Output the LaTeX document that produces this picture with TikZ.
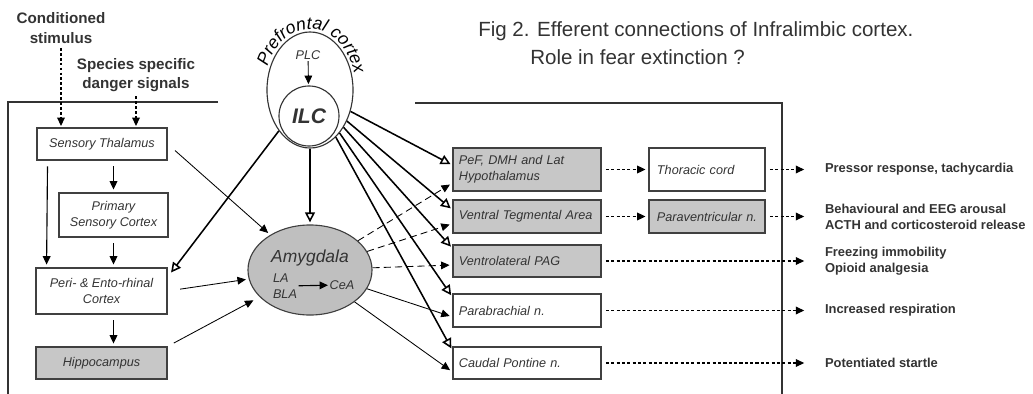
\documentclass[tikz,border=0pt]{standalone}
\usepackage{fontspec}
\setmainfont{Liberation Sans}
\usetikzlibrary{arrows.meta,shapes.geometric,decorations.text}

\begin{document}
\begin{tikzpicture}[x=0.025cm,y=0.025cm,>={Triangle[length=6pt,width=5.5pt]},
    every node/.style={text=black!80},
    box/.style={draw=black!75,line width=0.9pt,font=\fontsize{9}{11.4}\selectfont\itshape,align=center,inner sep=0pt},
    shaded/.style={fill=black!22},
    mid box/.style={box,align=left,inner xsep=0.15cm,text width=3.4cm,minimum height=0.825cm},
    side box/.style={box,align=left,inner xsep=0.2cm,text width=2.5cm,minimum height=0.825cm},
    label text/.style={font=\fontsize{10.8}{14}\selectfont\bfseries,align=center,inner sep=1pt},
    resp/.style={anchor=west,font=\fontsize{9.2}{11.4}\selectfont\bfseries,align=left,inner sep=0pt,outer xsep=0.45cm,outer ysep=0pt},
    small/.style={font=\fontsize{9}{11.4}\selectfont\itshape,align=left,inner sep=1pt},
    ilcarrow/.style={-{Triangle[open,length=7pt,width=7pt]},line width=1.1pt,shorten >=1.5pt},
    amyarrow/.style={->,line width=0.6pt,shorten >=2pt},
    amydash/.style={amyarrow,dash pattern=on 5pt off 3pt},
    indash/.style={->,line width=0.8pt,dash pattern=on 2pt off 1.5pt},
    outarrow/.style={->,line width=0.8pt,dash pattern=on 2.2pt off 1.6pt,shorten <=3pt,shorten >=2pt},
    vert/.style={->,line width=0.8pt,shorten <=4pt,shorten >=2pt}]
    \useasboundingbox (0,0) rectangle (1033,-394);

    % title
    \node[anchor=base west,font=\fontsize{14.6}{20}\selectfont,inner sep=0pt] (title) at (478,-37) {Fig 2. Efferent connections of Infralimbic cortex.};
    \node[anchor=base west,font=\fontsize{14.6}{20}\selectfont,inner sep=0pt] (subtitle) at (530,-65) {Role in fear extinction ?};

    % frame
    \draw[line width=1pt,black!80] (218,-102) -- (8,-102) -- (8,-394);
    \draw[line width=1pt,black!80] (415,-103) -- (782,-103) -- (782,-394);

    % inputs
    \node[label text] (cs) at (61,-28) {Conditioned\\stimulus};
    \node[label text] (ssds) at (136,-75) {Species specific\\danger signals};

    % left column
    \node[box,minimum width=3.25cm,minimum height=0.8cm] (thal) at (102,-144) {Sensory Thalamus};
    \node[box,minimum width=2.725cm,minimum height=1.1cm] (psc) at (113.5,-215) {Primary\\Sensory Cortex};
    \node[box,minimum width=3.275cm,minimum height=1.15cm] (peri) at (101.5,-291) {Peri- \& Ento-rhinal\\Cortex};
    \node[box,shaded,minimum width=3.275cm,minimum height=0.8cm] (hippo) at (101.5,-363) {Hippocampus};

    % prefrontal cortex
    \node[ellipse,draw=black!80,line width=0.8pt,minimum width=2.15cm,minimum height=2.9cm,inner sep=0pt] (pfc) at (310,-90) {};
    \path[decorate,decoration={text along path,text align=center,
        text={|\fontsize{12.5}{14}\selectfont\itshape|Prefrontal cortex}}]
        (pfc.center) ++(165:46 and 61) arc[start angle=165,end angle=8,x radius=46,y radius=61];
    \node[small] (plc) at (308,-55) {PLC};
    \node[circle,draw=black!80,line width=0.8pt,minimum size=1.5cm,inner sep=0pt,font=\fontsize{15}{17}\selectfont\bfseries\itshape] (ilc) at (309,-116) {ILC};

    % amygdala
    \node[ellipse,draw=black!75,fill=black!25,line width=0.8pt,minimum width=3.1cm,minimum height=2.25cm] (amy) at (310,-270) {};
    \node[font=\fontsize{12.4}{14}\selectfont\itshape,inner sep=0pt] (amyname) at (310,-258) {Amygdala};
    \node[small] (la) at (285,-286) {LA\\BLA};
    \node[small] (cea) at (342,-285) {CeA};

    % middle column
    \node[mid box,shaded,minimum height=1.075cm] (pef) at (527,-169.5) {PeF, DMH and Lat\\Hypothalamus};
    \node[mid box,shaded] (vta) at (527,-216.5) {Ventral Tegmental Area};
    \node[mid box,shaded,minimum height=0.8cm] (pag) at (527,-261) {Ventrolateral PAG};
    \node[mid box] (pbn) at (527,-310.5) {Parabrachial n.};
    \node[mid box,minimum height=0.8cm] (cpn) at (527,-363) {Caudal Pontine n.};
    \node[side box,minimum height=1.075cm] (tc) at (707,-169.5) {Thoracic cord};
    \node[side box,shaded] (pvn) at (707,-216.5) {Paraventricular n.};

    % responses
    \node[resp] (pressor) at (807,-169.5) {Pressor response, tachycardia};
    \node[resp] (arousal) at (807,-216.5) {Behavioural and EEG arousal\\ACTH and corticosteroid release};
    \node[resp] (freeze) at (807,-261) {Freezing immobility\\Opioid analgesia};
    \node[resp] (breath) at (807,-310.5) {Increased respiration};
    \node[resp] (startle) at (807,-363) {Potentiated startle};

    \path
        (cs) edge[indash,shorten <=2pt,shorten >=1pt] (cs |- thal.north)
        (ssds) edge[indash,shorten <=2pt,shorten >=1pt] (ssds |- thal.north)
        (psc |- thal.south) edge[vert] (psc.north)
        ([xshift=0.28cm]thal.south west) edge[vert] ([xshift=0.28cm]peri.north west)
        (psc.south) edge[vert] (psc |- peri.north)
        (psc |- peri.south) edge[vert] (psc |- hippo.north)
        (plc) edge[->,line width=0.6pt,shorten >=1pt] (ilc)
        (la) edge[->,line width=0.8pt] (cea)
        ;

    % from ILC
    \path
        (pfc) edge[ilcarrow,shorten >=4pt] ([yshift=0.35cm]peri.east)
        (pfc) edge[ilcarrow] (amy)
        (pfc) edge[ilcarrow] ([yshift=0.11cm]pef.west)
        (pfc) edge[ilcarrow] ([yshift=0.17cm]vta.west)
        (pfc) edge[ilcarrow] ([yshift=0.32cm]pag.west)
        (pfc) edge[ilcarrow] ([yshift=0.34cm]pbn.west)
        (pfc) edge[ilcarrow] ([yshift=0.32cm]cpn.west)
        ;

    % to and from the amygdala
    \path
        (thal.east) edge[amyarrow,shorten <=7pt] (amy)
        (peri.east) edge[amyarrow,shorten <=9pt] (amy)
        (hippo.north east) edge[amyarrow,shorten <=5pt,shorten >=5pt] (amy)
        (amy) edge[amydash] ([yshift=-0.34cm]pef.west)
        (amy) edge[amydash] ([yshift=-0.18cm]vta.west)
        (amy) edge[amydash] ([yshift=-0.1cm]pag.west)
        (amy) edge[amyarrow] ([yshift=-0.16cm]pbn.west)
        (amy) edge[amyarrow] ([yshift=-0.22cm]cpn.west)
        ;

    % outputs
    \path
        (pef) edge[outarrow] (tc)
        (vta) edge[outarrow] (pvn)
        (tc) edge[outarrow] (pressor)
        (pvn) edge[outarrow] (arousal)
        (pag) edge[outarrow] (freeze)
        (pbn) edge[outarrow] (breath)
        (cpn) edge[outarrow] (startle)
        ;
\end{tikzpicture}
\end{document}
